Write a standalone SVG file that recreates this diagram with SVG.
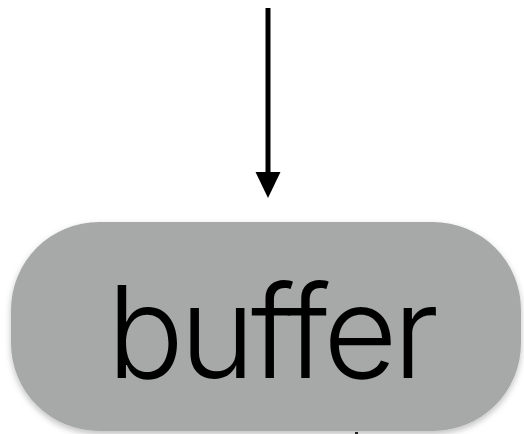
<svg xmlns="http://www.w3.org/2000/svg" width="524" height="434" viewBox="0 0 524 434">
<style>
.node-box{fill:#a6a9a8;filter:url(#sh);}
.label{font-family:Inter,Roboto,"Liberation Sans",Arial,sans-serif;font-weight:300;font-size:128px;fill:#000;text-anchor:middle;}
.conn{stroke:#000;stroke-width:5;fill:none;}
.head{fill:#000;}
</style>
<defs>
<filter id="sh" x="-10%" y="-10%" width="120%" height="130%">
<feDropShadow dx="0" dy="3" stdDeviation="3" flood-color="#000" flood-opacity="0.25"/>
</filter>
</defs>
<rect width="524" height="434" fill="#fff"/>
<g id="connectors">
<line class="conn" x1="268" y1="8" x2="268" y2="174"/>
<polygon class="head" points="255.5,172 280.5,172 268,198"/>
</g>
<g id="node-buffer">
<rect class="node-box" x="11" y="222" width="510" height="209" rx="88" ry="88"/>
<text class="label" x="273" y="378" textLength="332" lengthAdjust="spacing">buffer</text>
</g>
<rect x="355" y="432" width="3" height="2" fill="#222"/>
</svg>
